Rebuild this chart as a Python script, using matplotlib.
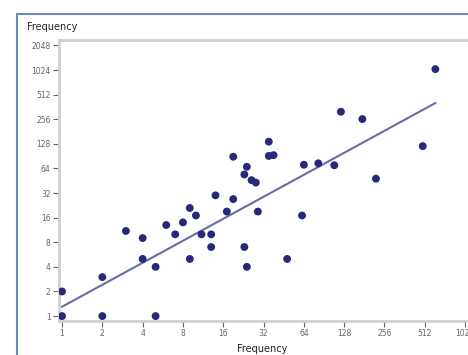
import numpy as np
import matplotlib.pyplot as plt
from matplotlib.patches import Rectangle

# valores (escala log2 nos dois eixos)
x_vals = [1, 1, 2, 2, 5, 3, 4, 4, 5, 6, 7, 8, 9, 9, 10, 11, 13, 13,
          14, 17, 19, 19, 23, 24, 26, 28, 23, 24, 29, 35, 35, 38,
          48, 62, 64, 82, 108, 121, 175, 221, 494, 614]
y_vals = [2, 1, 1, 3, 1, 11, 9, 5, 4, 13, 10, 14, 5, 21, 17, 10, 10, 7,
          30, 19, 27, 89, 54, 67, 46, 43, 7, 4, 19, 136, 91, 93,
          5, 17, 71, 74, 70, 316, 257, 48, 120, 1050]
# reta de regressão (extremos lidos)
reta_x = [1, 614]
reta_y = [1.3, 404]

ticks = [1, 2, 4, 8, 16, 32, 64, 128, 256, 512, 1024, 2048]

fig = plt.figure(figsize=(4.68, 3.55), dpi=100)
W, H = 468, 355

# moldura azul (sai pela direita e por baixo, como no original)
fig.patches.append(Rectangle((17 / W, -0.05), (W - 17) / W + 0.05, (H - 14) / H + 0.05,
                             transform=fig.transFigure, fill=False,
                             edgecolor='#6a8cc0', linewidth=1.5))

ax = fig.add_axes([59 / W, (H - 321) / H, (476 - 59) / W, (321 - 40) / H])
ax.set_xscale('log', base=2)
ax.set_yscale('log', base=2)
ax.set_xlim(2 ** -0.075, 2 ** 10.27)
ax.set_ylim(2 ** -0.2, 2 ** 11.22)

ax.plot(reta_x, reta_y, color='#6a6aa8', linewidth=1.5, zorder=2)
ax.scatter(x_vals, y_vals, s=32, color='#27287a', edgecolors='none', zorder=3)

ax.set_xticks(ticks[:-1])
ax.set_xticklabels([str(t) for t in ticks[:-1]])
ax.set_yticks(ticks)
ax.set_yticklabels([str(t) for t in ticks])
ax.minorticks_off()
ax.tick_params(labelsize=5.5, colors='#666666', length=4, width=0.8, pad=2)

for s in ['left', 'bottom', 'top']:
    ax.spines[s].set_color('#d0d0d0')
    ax.spines[s].set_linewidth(2)
ax.spines['right'].set_visible(False)

# rótulos
fig.text(262 / W, 1 - 349 / H, 'Frequency', fontsize=7, color='#222222',
         va='center', ha='center')
fig.text(27 / W, 1 - 27 / H, 'Frequency', fontsize=7, color='#222222',
         va='center', ha='left')

fig.savefig('out.png', dpi=100)
